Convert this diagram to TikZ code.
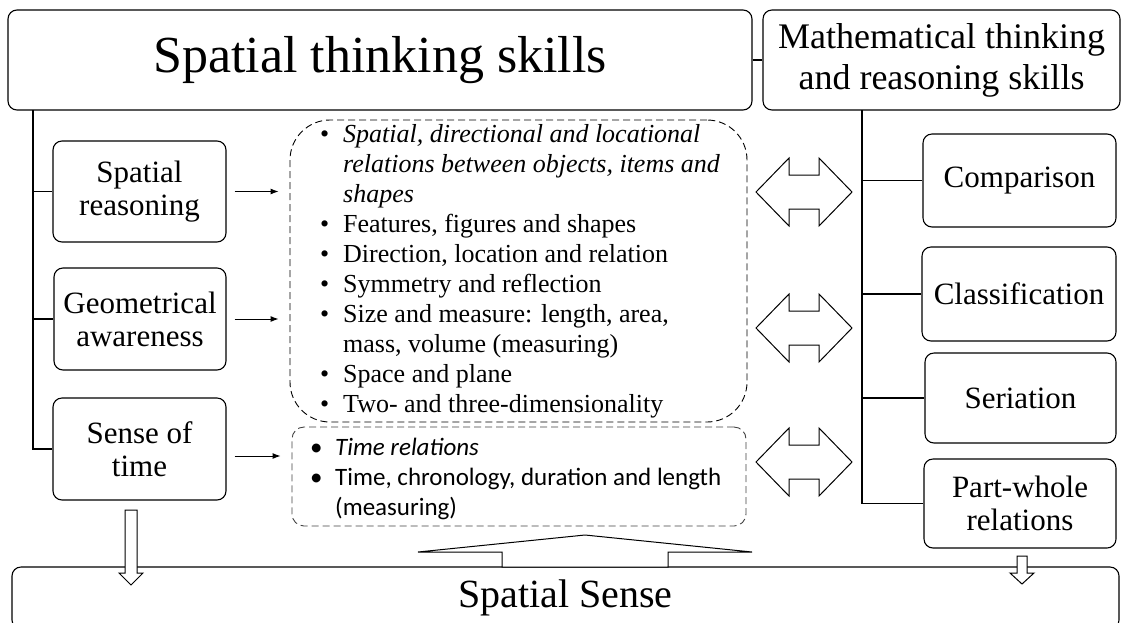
\documentclass[tikz,border=0pt]{standalone}
\usepackage{fontspec}
\setmainfont{Liberation Serif}
\newfontfamily\calibfont{Carlito}
\usetikzlibrary{arrows.meta}

\begin{document}
\begin{tikzpicture}[x=1pt,y=-1pt,
    skillbox/.style={draw, rounded corners=9pt, line width=1.1pt, align=center, inner sep=0pt},
    subbox/.style={skillbox, font=\fontsize{31}{33}\selectfont},
    itembox/.style={draw, dash pattern=on 7pt off 4pt, line width=0.9pt, inner sep=0pt},
    link/.style={line width=1.1pt},
    pointer/.style={-{Latex[length=8pt,width=6pt]}, line width=1pt, shorten <=8pt, shorten >=11pt},
    blockarrow/.style={draw, fill=white, line width=1pt, line join=miter}]
  \clip (0,0) rectangle (1137,622);

  % top row
  \node[skillbox, minimum width=744pt, minimum height=100pt,
        font=\fontsize{52}{60}\selectfont] (sts) at (380,60) {Spatial thinking skills};
  \node[skillbox, minimum width=357pt, minimum height=100pt,
        font=\fontsize{36}{41}\selectfont] (mts) at (941.5,60) {Mathematical thinking\\and reasoning skills};

  % left column
  \node[subbox, minimum width=173pt, minimum height=101pt] (sr) at (139.5,191.5) {Spatial\\reasoning};
  \node[subbox, minimum width=172pt, minimum height=102pt] (ga) at (140,319) {Geometrical\\awareness};
  \node[subbox, minimum width=173pt, minimum height=102pt] (st) at (139.5,449) {Sense of\\time};

  % right column
  \node[subbox, minimum width=193pt, minimum height=93pt] (cmp) at (1019.5,180.5) {Comparison};
  \node[subbox, minimum width=194pt, minimum height=94pt] (cls) at (1019,294) {Classification};
  \node[subbox, minimum width=191pt, minimum height=90pt] (ser) at (1020.5,398) {Seriation};
  \node[subbox, minimum width=192pt, minimum height=89pt] (pw) at (1020,503.5) {Part-whole\\relations};

  % middle items
  \node[itembox, rounded corners=40pt, minimum width=457pt, minimum height=302pt] (spbox) at (518.5,271) {};
  \node[anchor=west, inner sep=0pt, font=\fontsize{26}{30}\selectfont] (spitems) at (320,271) {%
    \begin{tabular}{@{}p{23pt}@{}l@{}}
    \textbullet & \textit{Spatial, directional and locational}\\
     & \textit{relations between objects, items and}\\
     & \textit{shapes}\\
    \textbullet & Features, figures and shapes\\
    \textbullet & Direction, location and relation\\
    \textbullet & Symmetry and reflection\\
    \textbullet & Size and measure: length, area,\\
     & mass, volume (measuring)\\
    \textbullet & Space and plane\\
    \textbullet & Two- and three-dimensionality
    \end{tabular}};
  \node[itembox, draw=black!75, rounded corners=12pt, minimum width=454pt, minimum height=99pt] (tbox) at (519,476.5) {};
  \node[anchor=west, inner sep=0pt, font=\calibfont\fontsize{25}{30}\selectfont] (titems) at (310,479) {%
    \begin{tabular}{@{}p{25pt}@{}l@{}}
    \textbullet & \textit{Time relations}\\
    \textbullet & Time, chronology, duration and length\\
     & (measuring)
    \end{tabular}};

  % bottom
  \node[skillbox, minimum width=1107pt, minimum height=62pt,
        font=\fontsize{40}{46}\selectfont] (ss) at (565.5,598) {Spatial Sense};

  % connectors
  \draw[link] (sts.east) -- (mts.west);
  \coordinate (lspine) at (33,110);
  \draw[link] (lspine) |- (sr.west);
  \draw[link] (lspine) |- (ga.west);
  \draw[link] (lspine) |- (st.west);
  \coordinate (rspine) at (862,110);
  \draw[link] (rspine) |- (cmp.west);
  \draw[link] (rspine) |- (cls.west);
  \draw[link] (rspine) |- (ser.west);
  \draw[link] (rspine) |- (pw.west);

  \draw[pointer] (sr.east) -- (sr.east -| spbox.west);
  \draw[pointer] (ga.east) -- (ga.east -| spbox.west);
  \path ([yshift=-7pt]st.east) coordinate (stout);
  \draw[pointer] (stout) -- (stout -| tbox.west);

  % block arrows
  \foreach \y in {192,328,462}
    \draw[blockarrow] (756,\y) -- (789,\y-34) -- (789,\y-17) -- (819,\y-17) -- (819,\y-34)
      -- (852,\y) -- (819,\y+34) -- (819,\y+17) -- (789,\y+17) -- (789,\y+34) -- cycle;
  \draw[blockarrow] (125,510) -- (137,510) -- (137,573) -- (143,573) -- (131,585)
    -- (119,573) -- (125,573) -- cycle;
  \draw[blockarrow] (1017,556) -- (1027,556) -- (1027,573) -- (1034,573) -- (1022,584)
    -- (1010,573) -- (1017,573) -- cycle;
  \draw[blockarrow] (502,567) -- (502,552) -- (418,552) -- (585,535) -- (752,552)
    -- (668,552) -- (668,567) -- cycle;
\end{tikzpicture}
\end{document}
